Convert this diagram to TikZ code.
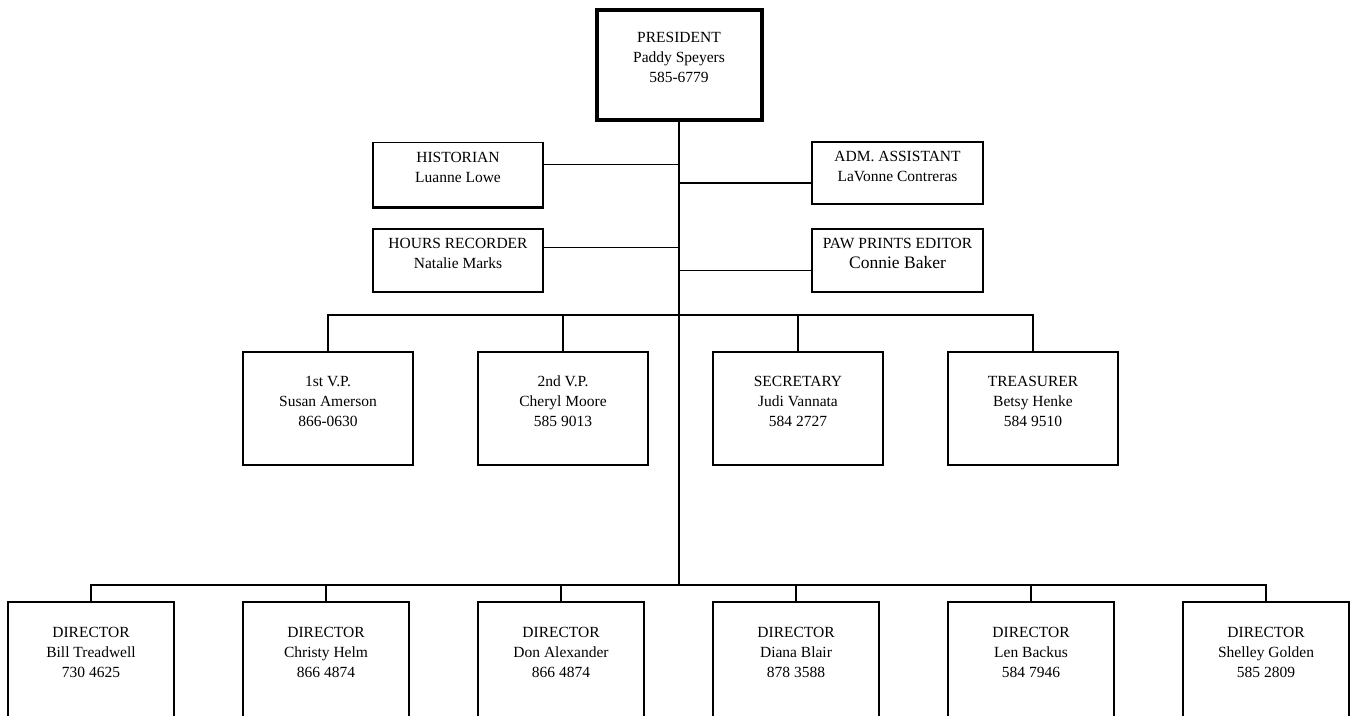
\documentclass[tikz,border=0pt]{standalone}
\usepackage{fontspec}
\setmainfont{Liberation Serif}
\usetikzlibrary{positioning}

\begin{document}
\begin{tikzpicture}[x=1pt,y=-1pt,node distance=235pt,on grid,
  every node/.style={font=\fontsize{15.5}{20}\selectfont},
  officer/.style={draw,line width=1.5pt,align=center,inner sep=1pt,minimum width=170pt,minimum height=113pt},
  aide/.style={officer,minimum height=64pt},
  chief/.style={officer,line width=4pt,minimum width=165pt,minimum height=110pt},
  director/.style={officer,minimum width=166pt,minimum height=116pt}]
  \clip (0,0) rectangle (1351,715);

  \node[chief]   (pres) at (679,64.5)          {PRESIDENT\\Paddy Speyers\\585-6779\\[-6pt]\mbox{}};
  \node[aide]    (hist) [below left=110pt and 221pt of pres]  {HISTORIAN\\Luanne Lowe\\[-6pt]\mbox{}};
  \node[aide,minimum width=171pt,minimum height=62pt] (adm) [below right=108.5pt and 218.5pt of pres] {ADM. ASSISTANT\\LaVonne Contreras\\[-6pt]\mbox{}};
  \node[aide,minimum height=63pt]  (hours) [below=86pt of hist] {HOURS RECORDER\\Natalie Marks\\[-6pt]\mbox{}};
  \node[aide,minimum width=171pt,minimum height=63pt] (paw) [below=87.5pt of adm] {PAW PRINTS EDITOR\\{\fontsize{17.5}{20}\selectfont Connie Baker}\\[-6pt]\mbox{}};

  \node[officer] (vp1) at (328,408.5)     {1st V.P.\\Susan Amerson\\866-0630\\[-6pt]\mbox{}};
  \node[officer] (vp2) [right=of vp1]    {2nd V.P.\\Cheryl Moore\\585 9013\\[-6pt]\mbox{}};
  \node[officer] (sec) [right=of vp2]    {SECRETARY\\Judi Vannata\\584 2727\\[-6pt]\mbox{}};
  \node[officer] (tre) [right=of sec]    {TREASURER\\Betsy Henke\\584 9510\\[-6pt]\mbox{}};

  \node[director] (d1) at (91,660)       {DIRECTOR\\Bill Treadwell\\730 4625\\[-4pt]\mbox{}};
  \node[director] (d2) [right=of d1]     {DIRECTOR\\Christy Helm\\866 4874\\[-4pt]\mbox{}};
  \node[director] (d3) [right=of d2]     {DIRECTOR\\Don Alexander\\866 4874\\[-4pt]\mbox{}};
  \node[director] (d4) [right=of d3]     {DIRECTOR\\Diana Blair\\878 3588\\[-4pt]\mbox{}};
  \node[director] (d5) [right=of d4]     {DIRECTOR\\Len Backus\\584 7946\\[-4pt]\mbox{}};
  \node[director] (d6) [right=of d5]     {DIRECTOR\\Shelley Golden\\585 2809\\[-4pt]\mbox{}};

  \coordinate (vbus) at (679,315);
  \coordinate (dbus) at (679,585);

\tikzset{link/.style={line width=1.5pt}}
  \draw[link] (pres.south) -- (dbus);
  \draw[link] ([yshift=10pt]hist.east) -- ([yshift=10pt]hist.east -| pres.south);
  \draw[link] ([yshift=-10pt]adm.west) -- ([yshift=-10pt]adm.west -| pres.south);
  \draw[link] ([yshift=13pt]hours.east) -- ([yshift=13pt]hours.east -| pres.south);
  \draw[link] ([yshift=-10pt]paw.west) -- ([yshift=-10pt]paw.west -| pres.south);
  \draw[line width=2.5pt] (hist.south west) -- (hist.south east);

  \draw[link] (vp1.north) |- (vbus) -| (tre.north);
  \foreach \n in {vp2,sec} \draw[link] (\n.north) -- (\n.north |- vbus);
  \draw[link] (d1.north) |- (dbus) -| (d6.north);
  \foreach \n in {d2,d3,d4,d5} \draw[link] (\n.north) -- (\n.north |- dbus);
\end{tikzpicture}
\end{document}
